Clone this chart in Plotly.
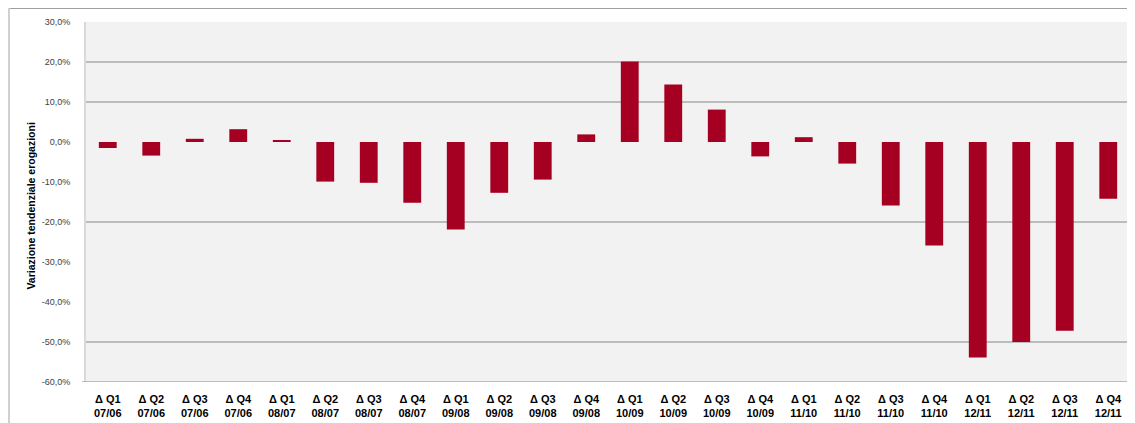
import plotly.graph_objects as go

categories = ["Δ Q1<br>07/06", "Δ Q2<br>07/06", "Δ Q3<br>07/06", "Δ Q4<br>07/06",
              "Δ Q1<br>08/07", "Δ Q2<br>08/07", "Δ Q3<br>08/07", "Δ Q4<br>08/07",
              "Δ Q1<br>09/08", "Δ Q2<br>09/08", "Δ Q3<br>09/08", "Δ Q4<br>09/08",
              "Δ Q1<br>10/09", "Δ Q2<br>10/09", "Δ Q3<br>10/09", "Δ Q4<br>10/09",
              "Δ Q1<br>11/10", "Δ Q2<br>11/10", "Δ Q3<br>11/10", "Δ Q4<br>11/10",
              "Δ Q1<br>12/11", "Δ Q2<br>12/11", "Δ Q3<br>12/11", "Δ Q4<br>12/11"]
values = [-1.5, -3.4, 0.8, 3.2, 0.3, -9.9, -10.2, -15.2,
          -21.9, -12.7, -9.4, 1.9, 20.1, 14.4, 8.1, -3.6,
          1.2, -5.4, -15.9, -25.9, -53.9, -50.0, -47.2, -14.2]
tick_vals = [30, 20, 10, 0, -10, -20, -30, -40, -50, -60]
tick_text = ["30,0%", "20,0%", "10,0%", "0,0%", "-10,0%", "-20,0%",
             "-30,0%", "-40,0%", "-50,0%", "-60,0%"]
grid_vals = [20, 10, -20, -50]
y_title = "Variazione tendenziale erogazioni"

# page body has an 8px margin; figure occupies (8,8)-(1135,423)
W, H = 1127, 415
ML, MR, MT, MB = 78, 5, 14, 41
pw = W - ML - MR
ph = H - MT - MB

fig = go.Figure(go.Bar(x=categories, y=values, marker_color="#a50021",
                       marker_line_width=0))

shapes = []
for g in grid_vals:
    shapes.append(dict(type="line", xref="paper", yref="y", x0=0, x1=1, y0=g, y1=g,
                       line=dict(color="#868686", width=1), layer="below"))
# x axis line at bottom
shapes.append(dict(type="line", xref="paper", yref="y", x0=-4 / pw, x1=1, y0=-60, y1=-60,
                   line=dict(color="#868686", width=1)))
# outer chart border (top and left)
shapes.append(dict(type="line", xref="paper", yref="paper",
                   x0=-(ML - 1) / pw, x1=(W - ML) / pw,
                   y0=1 + (MT - 0.5) / ph, y1=1 + (MT - 0.5) / ph,
                   line=dict(color="#a0a0a0", width=1)))
shapes.append(dict(type="line", xref="paper", yref="paper",
                   x0=-(ML - 1) / pw, x1=-(ML - 1) / pw,
                   y0=1 + MT / ph, y1=-(MB) / ph,
                   line=dict(color="#d0d0d0", width=2)))

fig.update_layout(
    width=W, height=H,
    margin=dict(l=ML, r=MR, t=MT, b=MB, autoexpand=False),
    paper_bgcolor="white", plot_bgcolor="#f2f2f2",
    bargap=0.59, showlegend=False,
    shapes=shapes,
    font=dict(family="Liberation Sans", color="#000000"),
    annotations=[dict(text="<b>" + y_title + "</b>", textangle=-90,
                      xref="paper", yref="paper",
                      x=(31 - 8 - ML) / pw, y=0.49, xanchor="center", yanchor="middle",
                      showarrow=False,
                      font=dict(size=10.5, family="Liberation Sans", color="#000"))],
)
fig.update_xaxes(showgrid=False, showline=False, ticks="", zeroline=False,
                 tickfont=dict(size=11, family="Liberation Sans", color="#000"),
                 tickangle=0, automargin=False, ticklabelstandoff=9,
                 ticktext=["<b>" + c + "</b>" for c in categories], tickvals=categories)
fig.update_yaxes(range=[-60, 30], tickvals=tick_vals, ticktext=tick_text,
                 showgrid=False, zeroline=False, showline=True,
                 linecolor="#d9d9d9", linewidth=2, ticks="", automargin=False,
                 tickfont=dict(size=9, family="Liberation Sans", color="#404040"),
                 ticklabelstandoff=12)

fig.write_html("out.html")
